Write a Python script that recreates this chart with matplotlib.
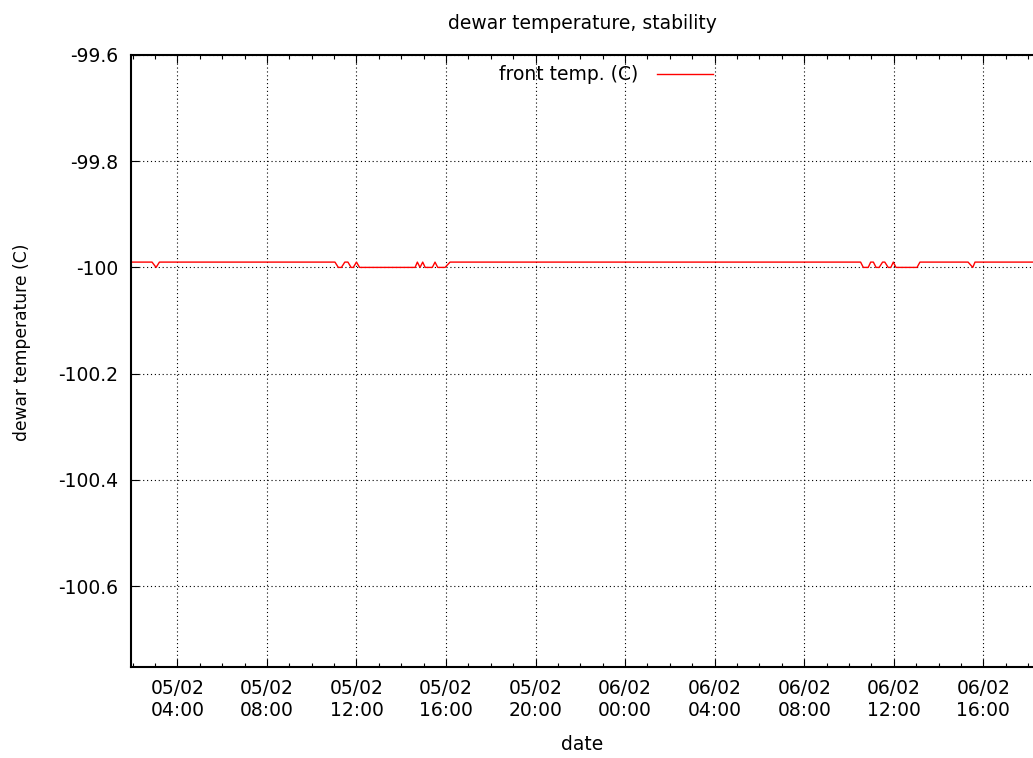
"""Dewar front temperature over two days, gnuplot-like styling."""

from datetime import datetime, timedelta

import matplotlib

matplotlib.use("Agg")
import matplotlib.dates as mdates
import matplotlib.pyplot as plt
from matplotlib.ticker import FuncFormatter

plt.rcParams["font.family"] = ["DejaVu Sans"]

START = datetime(2011, 2, 5)

# sample times (hours since 05/02 00:00) and readings in deg C
hours = [
    1.93, 2.87, 3.05, 3.20,
    11.04, 11.19, 11.33, 11.48, 11.62, 11.76, 11.86, 12.00, 12.14,
    14.62, 14.72, 14.84, 14.96, 15.07, 15.39, 15.51, 15.63, 15.96, 16.18,
    34.52, 34.64, 34.86, 34.97, 35.09, 35.21, 35.35, 35.50, 35.60, 35.75,
    35.87, 35.98, 36.10, 37.04, 37.17,
    39.32, 39.53, 39.63, 42.30,
]
front_temp = [
    -99.99, -99.99, -100.0, -99.99,
    -99.99, -100.0, -100.0, -99.99, -99.99, -100.0, -100.0, -99.99, -100.0,
    -100.0, -99.99, -100.0, -99.99, -100.0, -100.0, -99.99, -100.0, -100.0, -99.99,
    -99.99, -100.0, -100.0, -99.99, -99.99, -100.0, -100.0, -99.99, -99.99, -100.0,
    -100.0, -99.99, -100.0, -100.0, -99.99,
    -99.99, -100.0, -99.99, -99.99,
]

x_range_hours = (1.93, 42.22)
y_range = (-100.7525, -99.6)
y_ticks = [-100.6, -100.4, -100.2, -100.0, -99.8, -99.6]

FS = 13.5

times = [START + timedelta(hours=h) for h in hours]

fig = plt.figure(figsize=(10.33, 7.58), dpi=100)
ax = fig.add_axes([131 / 1033, 91 / 758, 902 / 1033, 612 / 758])

ax.plot(times, front_temp, color="#ff0000", lw=1.0, label="front temp. (C)")

ax.set_xlim(START + timedelta(hours=x_range_hours[0]),
            START + timedelta(hours=x_range_hours[1]))
ax.set_ylim(*y_range)
ax.set_yticks(y_ticks)
ax.yaxis.set_major_formatter(FuncFormatter(lambda v, _: f"{v:g}"))

ax.xaxis.set_major_locator(mdates.HourLocator(byhour=range(0, 24, 4)))
ax.xaxis.set_minor_locator(mdates.HourLocator())
ax.xaxis.set_major_formatter(mdates.DateFormatter("%d/%m\n%H:%M"))

ax.grid(True, which="major", color="black", lw=0.8, linestyle=(0, (1, 2.5)))

for side in ("left", "bottom", "top"):
    ax.spines[side].set_linewidth(1.5)
ax.spines["right"].set_visible(False)

ax.tick_params(which="both", direction="in", top=True, right=False,
               labelsize=FS, width=0.8, color="black")
ax.tick_params(which="major", length=6, pad=9)
ax.tick_params(which="minor", length=3)

for lab in ax.get_xticklabels():
    lab.set_linespacing(1.2)

ax.set_title("dewar temperature, stability", fontsize=FS, pad=19)
ax.set_xlabel("date", fontsize=FS)
ax.xaxis.set_label_coords(0.5, -0.111)
ax.set_ylabel("dewar temperature (C)", fontsize=12.3)
ax.yaxis.set_label_coords(-0.111, 0.53)

ax.legend(loc="upper center", bbox_to_anchor=(0.527, 1.0), frameon=False,
          markerfirst=False, handlelength=3.0, handletextpad=1.0,
          fontsize=FS, borderaxespad=0.15)

fig.savefig("out.png", dpi=100)
